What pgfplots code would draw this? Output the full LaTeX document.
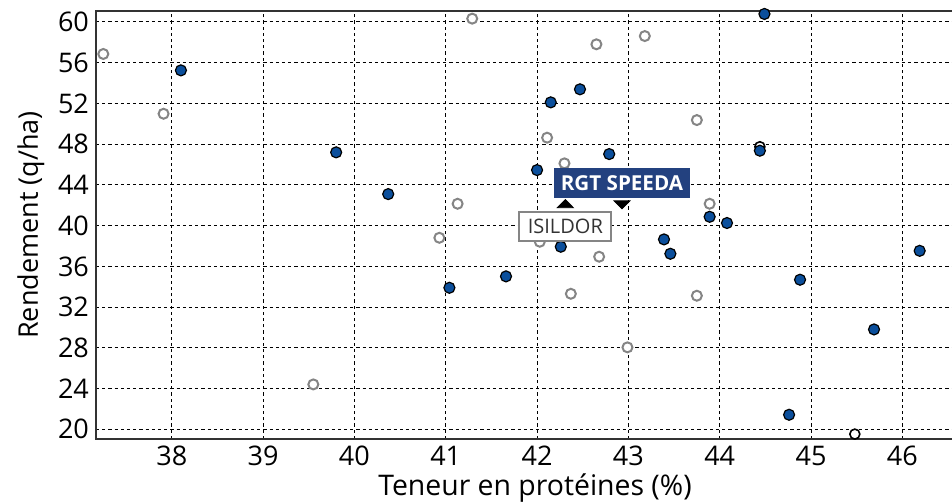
\documentclass[border=0pt]{standalone}
\usepackage{fontspec}
\setmainfont{Open Sans}
\usepackage{pgfplots}
\pgfplotsset{compat=1.18}
\definecolor{pblue}{HTML}{0B4F9C}
\definecolor{lblue}{HTML}{23417F}
\definecolor{pgrey}{HTML}{858585}
\definecolor{axc}{HTML}{333333}
\begin{document}
\begin{tikzpicture}
\begin{axis}[
  width=428pt, height=214pt, scale only axis,
  xmin=37.17, xmax=46.544, ymin=19.05, ymax=61.08,
  xtick={38,...,46}, ytick={20,24,...,60},
  grid=major,
  major grid style={black, line width=0.5pt, dash pattern=on 1.6pt off 1.5pt},
  major tick length=0pt,
  axis line style={draw=none},
  clip=false,
  /pgf/number format/assume math mode=true,
  tick label style={font=\fontsize{13.5}{16}\selectfont},
  label style={font=\fontsize{13.5}{16}\selectfont},
  xlabel={Teneur en protéines (\%)},
  ylabel={Rendement (q/ha)},
  xlabel style={xshift=5.5pt, yshift=3pt, font=\fontsize{14.2}{16}\selectfont},
]
\draw[axc, line width=1pt] (rel axis cs:1,1) -- (rel axis cs:0,1) -- (rel axis cs:0,0) -- (rel axis cs:1,0);
\coordinate (SW) at (rel axis cs:0,0);
\coordinate (NE) at (rel axis cs:1,1);
% grey open
\addplot[only marks, mark=*, mark size=2.5pt, mark options={draw=pgrey, fill=white, line width=1pt}] coordinates {
(37.25,56.86) (37.91,50.99) (41.29,60.33) (41.13,42.15) (40.93,38.81)
(42.65,57.81) (43.18,58.62) (43.75,50.37) (42.11,48.64) (42.30,46.12)
(43.89,42.15) (42.03,38.42) (42.68,36.95) (42.37,33.31) (43.75,33.12)
(42.99,28.05) (39.55,24.41)
};
% black open
\addplot[only marks, mark=*, mark size=2.5pt, mark options={draw=black, fill=white, line width=0.8pt}] coordinates {
(45.48,19.53) (44.44,47.75)
};
% blue
\addplot[only marks, mark=*, mark size=2.75pt, mark options={draw=black, fill=pblue, line width=0.6pt}] coordinates {
(38.10,55.25) (39.80,47.2) (40.37,43.1) (44.49,60.79) (42.47,53.39)
(42.15,52.11) (42.79,47.03) (44.44,47.36) (42.00,45.46) (43.89,40.87)
(44.08,40.26) (43.39,38.65) (42.26,37.93) (43.46,37.24) (41.66,35.02)
(46.19,37.53) (44.88,34.69) (45.69,29.81) (44.76,21.43) (41.04,33.9)
};
% ISILDOR
\addplot[only marks, mark=triangle*, mark size=4.6pt, mark options={black, yscale=0.58},
  nodes near coords={ISILDOR},
  every node near coord/.append style={anchor=center, yshift=-10.75pt, draw=pgrey, line width=1pt, fill=white, text=axc, font=\fontsize{10}{12}\selectfont, inner xsep=4.3pt, inner ysep=3.8pt}
] coordinates {(42.31,42.03)};
% RGT SPEEDA
\addplot[only marks, mark=triangle*, mark size=4.6pt, mark options={black, rotate=180, yscale=0.58},
  nodes near coords={\bfseries RGT SPEEDA},
  every node near coord/.append style={anchor=center, yshift=10.25pt, fill=lblue, text=white, font=\fontsize{10.3}{12}\selectfont, inner xsep=3.5pt, inner ysep=3.9pt}
] coordinates {(42.93,42.17)};
\end{axis}
\pgfresetboundingbox
\path ([shift={(-48pt,-32pt)}]SW) rectangle ([shift={(0pt,5.5pt)}]NE);
\end{tikzpicture}
\end{document}
